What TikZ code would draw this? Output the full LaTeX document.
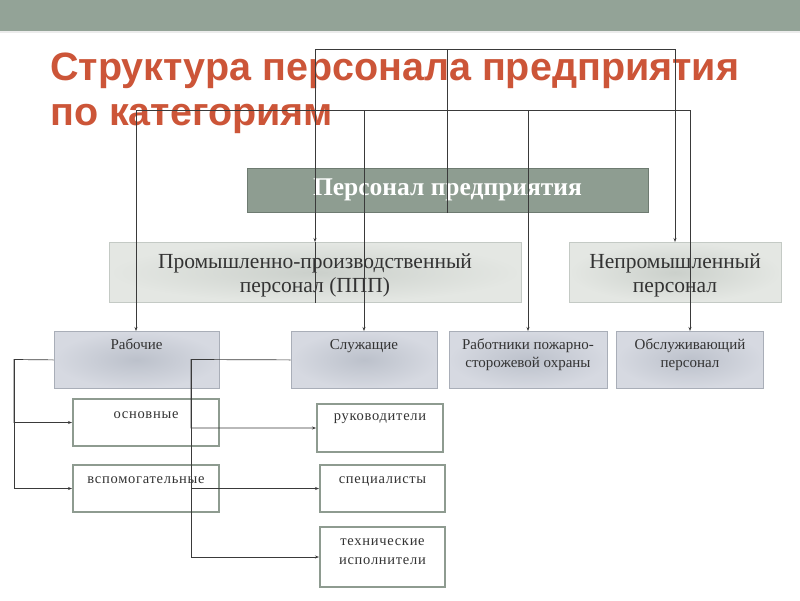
\documentclass[tikz,border=0pt]{standalone}
\usepackage{fontspec}
\setmainfont{Liberation Serif}
\newfontfamily\titlefont{Liberation Sans}
\newfontfamily\spacedfont[LetterSpace=5]{Liberation Serif}
\usetikzlibrary{arrows.meta}

\definecolor{bandgreen}{HTML}{93A397}
\definecolor{titlered}{HTML}{CC5538}
\definecolor{linegray}{HTML}{3A3A3A}
\definecolor{persfill}{HTML}{8E9D91}
\definecolor{persdraw}{HTML}{6E7B71}
\definecolor{textgray}{HTML}{333333}
\definecolor{subdraw}{HTML}{8E9B90}
\definecolor{grpin}{HTML}{CBD0CB}
\definecolor{grpout}{HTML}{E4E7E3}
\definecolor{grpdraw}{HTML}{C4CAC5}
\definecolor{catin}{HTML}{BCC1CB}
\definecolor{catout}{HTML}{D6D9E1}
\definecolor{catdraw}{HTML}{A9AEB8}

\tikzset{
  conn/.style={draw=linegray, line width=0.7pt},
  arr/.style={conn, -{Stealth[length=4pt,width=3pt]}},
  titletext/.style={anchor=base west, align=left, text=titlered,
    font=\titlefont\bfseries\fontsize{39.5}{45}\selectfont, inner sep=0pt},
  mainbox/.style={draw=persdraw, line width=1pt, fill=persfill, text=white,
    font=\bfseries\fontsize{25.5}{28}\selectfont},
  groupbox/.style={draw=grpdraw, line width=0.8pt, inner color=grpin, outer color=grpout,
    text=textgray, align=center, anchor=north, inner sep=0pt,
    text height=50pt, text depth=10pt,
    font=\fontsize{21.5}{24}\selectfont},
  catbox/.style={draw=catdraw, line width=0.8pt, inner color=catin, outer color=catout,
    text=textgray, align=center, anchor=north, inner sep=0pt,
    text height=18pt, text depth=39pt,
    font=\fontsize{15}{18}\selectfont},
  subbox/.style={draw=subdraw, line width=2pt, fill=white, text=textgray,
    align=center, anchor=north, inner sep=0pt,
    font=\spacedfont\fontsize{14.5}{19}\selectfont}
}

\begin{document}
\begin{tikzpicture}[x=1pt,y=-1pt]
\useasboundingbox (0,0) rectangle (800,600);
\fill[bandgreen] (0,0) rectangle (800,31);
\draw[gray!15, line width=1.5pt] (0,32) -- (800,32);

\node[titletext] (title) at (50,125) {Структура персонала предприятия\\по категориям};

% levels
\node[mainbox, minimum width=401pt, minimum height=44pt] (pers) at (447.5,190) {Персонал предприятия};
\node[groupbox, minimum width=412pt] (ppp) at (315,242) {Промышленно-производственный\\персонал (ППП)};
\node[groupbox, minimum width=212pt] (nonppp) at (675,242) {Непромышленный\\персонал};

\node[catbox, minimum width=165pt] (rab) at (136.5,331) {Рабочие};
\node[catbox, minimum width=146pt] (sluzh) at (364,331) {Служащие};
\node[catbox, minimum width=158pt, text height=36pt, text depth=21pt] (pozh) at (528,331) {Работники пожарно-\\сторожевой охраны};
\node[catbox, minimum width=147pt, text height=36pt, text depth=21pt] (obsl) at (690,331) {Обслуживающий\\персонал};

\node[subbox, minimum width=146pt, text height=19pt, text depth=28pt] (osn) at (146,398) {основные};
\node[subbox, minimum width=146pt, text height=18pt, text depth=29pt] (vsp) at (146,464) {вспомогательные};
\node[subbox, minimum width=126pt, text height=16pt, text depth=32pt] (ruk) at (380,403) {руководители};
\node[subbox, minimum width=125pt, text height=18pt, text depth=29pt] (spec) at (382.5,464) {специалисты};
\node[subbox, minimum width=125pt, text height=37pt, text depth=23pt] (tech) at (382.5,526) {технические\\исполнители};

% bus lines
\coordinate (t1) at (315,49);
\coordinate (t2) at (447,49);
\coordinate (t3) at (675,49);
\coordinate (m1) at (136,110);
\coordinate (m2) at (364,110);
\coordinate (m4) at (528,110);
\coordinate (m5) at (690,110);
\coordinate (rbus) at (14,359.5);
\coordinate (sbus) at (191,359.5);

\draw[conn] (t1) -- (t3);
\draw[conn] (t2) -- (t2 |- pers.south);
\draw[conn] (m1) -- (m5);
\draw[arr] (t1) -- (ppp.north);
\draw[conn] (ppp.north) -- (ppp.south);
\draw[arr] (t3) -- (nonppp.north);
\draw[arr] (m1) -- (m1 |- rab.north);
\draw[arr] (m2) -- (sluzh.north);
\draw[arr] (m4) -- (pozh.north);
\draw[arr] (m5) -- (obsl.north);

\draw[arr] (rab.west) -- (rbus) |- (osn.west);
\draw[arr] (rbus) |- (vsp.west);
\draw[arr] (sluzh.west) -- (sbus) |- (ruk.west);
\draw[arr] (sbus) |- (spec.west);
\draw[arr] (sbus) |- (tech.west);
\end{tikzpicture}
\end{document}
